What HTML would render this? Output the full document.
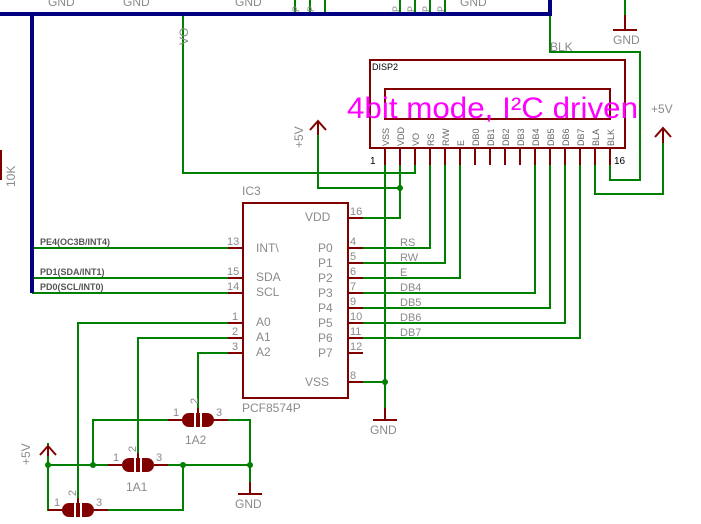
<!DOCTYPE html>
<html><head><meta charset="utf-8"><style>
html,body{margin:0;padding:0;background:#fff;width:701px;height:524px;overflow:hidden}
svg{display:block}
text{font-family:"Liberation Sans",Arial,sans-serif;fill:#8a8a8a}
</style></head><body>
<svg width="701" height="524" viewBox="0 0 701 524" xmlns="http://www.w3.org/2000/svg">
<defs>
<g id="jmp" fill="#800000">
<path d="M-4,-7 H-9 A7,7 0 0 0 -9,7 H-4 Z"/>
<rect x="-2" y="-7" width="4" height="14"/>
<path d="M4,-7 H9 A7,7 0 0 1 9,7 H4 Z"/>
</g>
</defs>
<g fill="none" stroke="#008000" stroke-width="2">
<path d="M295,0V14M310,0V14M325,0V14M400,0V14M415,0V14M430,0V14M445,0V14"/>
<path d="M625,0V15"/>
<path d="M183,14V173H415V165"/>
<path d="M318,135V188H400"/>
<path d="M400,165V218H363"/>
<path d="M385,165V408M363,382H385"/>
<path d="M363,248H430V165M363,263H445V165M363,278H460V165M363,293H535V165M363,308H550V165M363,323H565V165M363,338H580V165"/>
<path d="M550,14V52H640V180H610V165"/>
<path d="M663,143V194H595V165"/>
<path d="M32,248H228M32,278H228M32,293H228"/>
<path d="M228,323H78V498"/>
<path d="M228,338H138V453"/>
<path d="M228,353H198V408"/>
<path d="M168,420H93V465M228,420H250V482"/>
<path d="M48,443V510H62M48,465H108M168,465H250M95,510H183V465"/>
</g>
<g fill="#008000">
<circle cx="400" cy="188" r="3"/><circle cx="385" cy="382" r="3"/>
<circle cx="48" cy="465" r="3"/><circle cx="93" cy="465" r="3"/><circle cx="183" cy="465" r="3"/><circle cx="250" cy="465" r="3"/>
</g>
<g stroke="#000080" stroke-width="4" fill="none">
<path d="M0,14H550V0"/>
<path d="M32,14V293"/>
</g>
<g stroke="#800000" stroke-width="2" fill="none">
<path d="M625,15V30M613,30H637"/>
<rect x="0" y="150" width="2" height="30" fill="#800000" stroke="none"/>
<rect x="370" y="60" width="255" height="88"/>
<rect x="385" y="89" width="225" height="30"/>
<path d="M385,148V165M400,148V165M415,148V165M430,148V165M445,148V165M460,148V165M475,148V165M490,148V165M505,148V165M520,148V165M535,148V165M550,148V165M565,148V165M580,148V165M595,148V165M610,148V165"/>
<rect x="243" y="203" width="105" height="195"/>
<path d="M348,218H363M348,248H363M348,263H363M348,278H363M348,293H363M348,308H363M348,323H363M348,338H363M348,353H363M348,382H363"/>
<path d="M228,248H243M228,278H243M228,293H243M228,323H243M228,338H243M228,353H243"/>
<path d="M385,408V420M373,420H397"/>
<path d="M250,482V494M238,494H262"/>
<path d="M310,130L318,121L326,130M318,121V135"/>
<path d="M655,137L663,128L671,137M663,128V143"/>
<path d="M40,455L48,446L56,455M48,446V456"/>
<path d="M168,420H182M214,420H228M198,408V414"/>
<path d="M108,465H122M154,465H168M138,453V459"/>
<path d="M48,510H62M94,510H108M78,498V504"/>
</g>
<use href="#jmp" x="198" y="420"/>
<use href="#jmp" x="138" y="465"/>
<use href="#jmp" x="78" y="510"/>
<g font-size="12">
<text x="48" y="6">GND</text><text x="123" y="6">GND</text><text x="235" y="6">GND</text><text x="460" y="6">GND</text>
<text x="613" y="44">GND</text><text x="370" y="434">GND</text><text x="235" y="508">GND</text>
<text x="550" y="51">BLK</text>
<text x="242" y="195">IC3</text>
<text x="242" y="412">PCF8574P</text>
<text x="651" y="113">+5V</text>
<text x="126" y="491">1A1</text>
<text transform="translate(188,45) rotate(-90)">VO</text>
<text transform="translate(303,148) rotate(-90)">+5V</text>
<text transform="translate(30,465) rotate(-90)">+5V</text>
<text transform="translate(15,187) rotate(-90)">10K</text>
<text x="305" y="221">VDD</text>
<text x="256" y="252">INT\</text><text x="256" y="281">SDA</text><text x="256" y="296">SCL</text>
<text x="256" y="326">A0</text><text x="256" y="341">A1</text><text x="256" y="356">A2</text>
<text x="318" y="252">P0</text><text x="318" y="267">P1</text><text x="318" y="282">P2</text><text x="318" y="297">P3</text>
<text x="318" y="312">P4</text><text x="318" y="327">P5</text><text x="318" y="342">P6</text><text x="318" y="357">P7</text>
<text x="305" y="386">VSS</text>
<text x="185" y="444">1A2</text>
</g>
<g font-size="11">
<text x="350" y="215">16</text><text x="350" y="245">4</text><text x="350" y="260">5</text><text x="350" y="275">6</text><text x="350" y="290">7</text>
<text x="350" y="305">9</text><text x="350" y="320">10</text><text x="350" y="335">11</text><text x="350" y="350">12</text><text x="350" y="379">8</text>
<text x="227" y="245">13</text><text x="227" y="275">15</text><text x="227" y="290">14</text><text x="232" y="320">1</text><text x="232" y="335">2</text><text x="232" y="350">3</text>
<text x="400" y="246">RS</text><text x="400" y="261">RW</text><text x="400" y="276">E</text><text x="400" y="291">DB4</text>
<text x="400" y="306">DB5</text><text x="400" y="321">DB6</text><text x="400" y="336">DB7</text>
<text x="173" y="416">1</text><text x="216" y="416">3</text><text transform="translate(198,404) rotate(-90)">2</text>
<text x="113" y="461">1</text><text x="156" y="461">3</text><text transform="translate(136,452) rotate(-90)">2</text>
<text x="54" y="506">1</text><text x="96" y="506">3</text><text transform="translate(76,496) rotate(-90)">2</text>
</g>
<g font-size="9">
<text x="40" y="245" font-weight="bold" style="fill:#555">PE4(OC3B/INT4)</text>
<text x="40" y="275" font-weight="bold" style="fill:#555">PD1(SDA/INT1)</text>
<text x="40" y="290" font-weight="bold" style="fill:#555">PD0(SCL/INT0)</text>
</g>
<g font-size="9">
<text transform="translate(299,12) rotate(-90)">P</text><text transform="translate(314,12) rotate(-90)">P</text>
<text transform="translate(399,12) rotate(-90)">P</text><text transform="translate(414,12) rotate(-90)">P</text><text transform="translate(429,12) rotate(-90)">P</text><text transform="translate(444,12) rotate(-90)">P</text>
</g>
<text x="372" y="70" font-size="9" style="fill:#000">DISP2</text>
<text x="370" y="164" font-size="10" style="fill:#000">1</text>
<text x="614" y="164" font-size="10" style="fill:#000">16</text>
<g font-size="9">
<text transform="translate(389,146) rotate(-90)" style="fill:#666">VSS</text>
<text transform="translate(404,146) rotate(-90)" style="fill:#666">VDD</text>
<text transform="translate(419,146) rotate(-90)" style="fill:#666">VO</text>
<text transform="translate(434,146) rotate(-90)" style="fill:#666">RS</text>
<text transform="translate(449,146) rotate(-90)" style="fill:#666">R/W</text>
<text transform="translate(464,146) rotate(-90)" style="fill:#666">E</text>
<text transform="translate(479,146) rotate(-90)" style="fill:#666">DB0</text>
<text transform="translate(494,146) rotate(-90)" style="fill:#666">DB1</text>
<text transform="translate(509,146) rotate(-90)" style="fill:#666">DB2</text>
<text transform="translate(524,146) rotate(-90)" style="fill:#666">DB3</text>
<text transform="translate(539,146) rotate(-90)" style="fill:#666">DB4</text>
<text transform="translate(554,146) rotate(-90)" style="fill:#666">DB5</text>
<text transform="translate(569,146) rotate(-90)" style="fill:#666">DB6</text>
<text transform="translate(584,146) rotate(-90)" style="fill:#666">DB7</text>
<text transform="translate(599,146) rotate(-90)" style="fill:#666">BLA</text>
<text transform="translate(614,146) rotate(-90)" style="fill:#666">BLK</text>
</g>
<text x="347" y="118" font-size="30" textLength="291" lengthAdjust="spacingAndGlyphs" style="fill:#ff00ff">4bit mode, I²C driven</text>
</svg>
</body></html>
